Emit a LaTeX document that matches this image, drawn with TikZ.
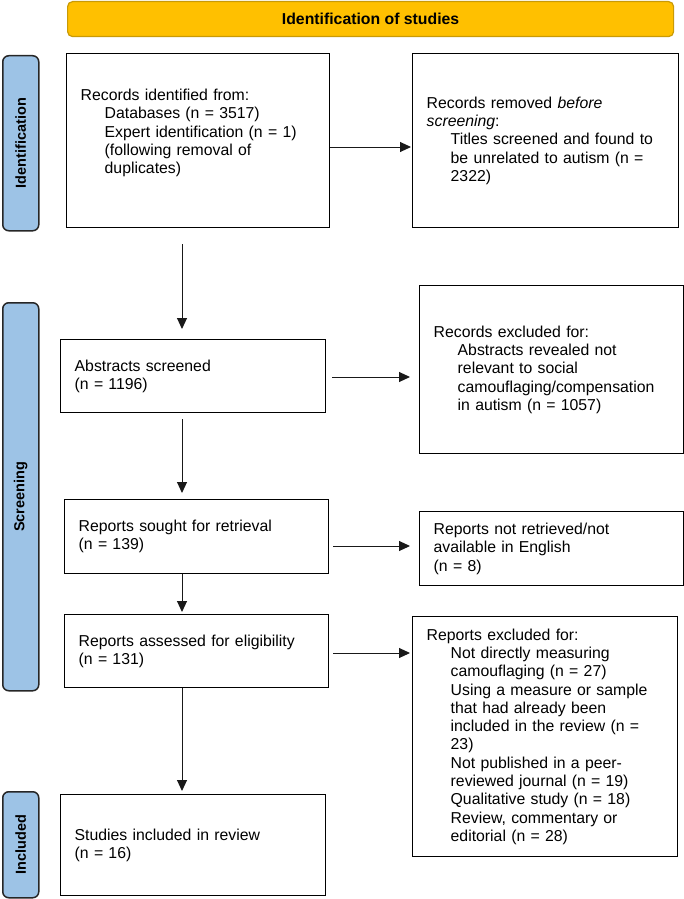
\documentclass[tikz,border=0pt]{standalone}
\usepackage{fontspec}
\setmainfont{Liberation Sans}
\usetikzlibrary{arrows.meta,calc}
\definecolor{sideblue}{HTML}{9DC3E6}
\definecolor{bannery}{HTML}{FFC000}
\definecolor{bannerb}{HTML}{C99A06}
\newcommand{\myind}{\hspace*{24pt}}
\begin{document}
\begin{tikzpicture}[x=1pt,y=-1pt,
  box/.style={draw=black,line width=1.4pt,fill=white,anchor=north west,align=left,
    inner xsep=14pt,inner ysep=0pt,font=\fontsize{15.8}{18.3}\selectfont},
  arr/.style={draw=black!90,line width=1pt,-{Triangle[length=11pt,width=10pt]}},
  side/.style={draw=black!85,line width=1.5pt,fill=sideblue,rounded corners=6pt,
    minimum width=36pt,anchor=north west,inner sep=0pt},
  sidetext/.style={font=\bfseries\fontsize{14.5}{17}\selectfont,rotate=90},
  banner/.style={draw=bannerb,line width=1.2pt,fill=bannery,rounded corners=5pt,
    anchor=north west,inner sep=0pt,font=\bfseries\fontsize{15.8}{18}\selectfont}
  ]
\useasboundingbox (0,0) rectangle (684,899);

% banner
\node[banner, minimum width=606pt, minimum height=35pt] (ban) at (67,1) {Identification of studies};

% side bars
\node[side, minimum height=175pt] (sid1) at (2,55) {};
\node[sidetext] (sid1t) at (sid1.center) {Identification};
\node[side, minimum height=388pt] (sid2) at (2,302) {};
\node[sidetext] (sid2t) at (sid2.center) {Screening};
\node[side, minimum height=106pt] (sid3) at (2,791) {};
\node[sidetext] (sid3t) at (sid3.center) {Included};

% left column
\node[box, minimum width=263pt, minimum height=174pt, text width=235pt] (b1) at (66,53)
  {Records identified from:\\ \myind Databases (n = 3517)\\ \myind Expert identification (n = 1)\\ \myind (following removal of\\ \myind duplicates)\\ \mbox{}};
\node[box, minimum width=265pt, minimum height=73pt, text width=237pt] (b2) at (60,339)
  {Abstracts screened\\(n = 1196)};
\node[box, minimum width=264pt, minimum height=74pt, text width=236pt] (b3) at (64,499)
  {Reports sought for retrieval\\(n = 139)};
\node[box, minimum width=264pt, minimum height=73pt, text width=236pt] (b4) at (64,614)
  {Reports assessed for eligibility\\(n = 131)};
\node[box, minimum width=265pt, minimum height=101pt, text width=237pt] (b5) at (60,794)
  {Studies included in review\\(n = 16)};

% right column
\node[box, minimum width=266pt, minimum height=174pt, text width=238pt] (r1) at (412,53)
  {Records removed \textit{before}\\ \textit{screening}:\\ \myind Titles screened and found to\\ \myind be unrelated to autism (n =\\ \myind 2322)};
\node[box, minimum width=264pt, minimum height=168pt, text width=236pt] (r2) at (419,285)
  {Records excluded for:\\ \myind Abstracts revealed not\\ \myind relevant to social\\ \myind camouflaging/compensation\\ \myind in autism (n = 1057)};
\node[box, minimum width=264pt, minimum height=74pt, text width=236pt] (r3) at (419,511)
  {Reports not retrieved/not\\available in English\\(n = 8)};
\node[box, minimum width=265pt, minimum height=240pt, text width=237pt] (r4) at (412,616)
  {Reports excluded for:\\ \myind Not directly measuring\\ \myind camouflaging (n = 27)\\ \myind Using a measure or sample\\ \myind that had already been\\ \myind included in the review (n =\\ \myind 23)\\ \myind Not published in a peer-\\ \myind reviewed journal (n = 19)\\ \myind Qualitative study (n = 18)\\ \myind Review, commentary or\\ \myind editorial (n = 28)};

% horizontal arrows
\draw[arr, shorten >=1pt] (b1.east |- 0,147) -- (r1.west |- 0,147);
\draw[arr, shorten <=6pt, shorten >=9pt] (b2.east |- 0,377) -- (r2.west |- 0,377);
\draw[arr, shorten <=4pt, shorten >=9pt] (b3.east |- 0,546) -- (r3.west |- 0,546);
\draw[arr, shorten <=4pt, shorten >=2pt] (b4.east |- 0,653) -- (r4.west |- 0,653);

% vertical arrows
\draw[arr, shorten <=16pt, shorten >=10pt] (b1.south -| 182,0) -- (b2.north -| 182,0);
\draw[arr, shorten <=6pt, shorten >=6pt] (b2.south -| 182,0) -- (b3.north -| 182,0);
\draw[arr, shorten >=2pt] (b3.south -| 182,0) -- (b4.north -| 182,0);
\draw[arr, shorten >=3pt] (b4.south -| 182,0) -- (b5.north -| 182,0);
\end{tikzpicture}
\end{document}
